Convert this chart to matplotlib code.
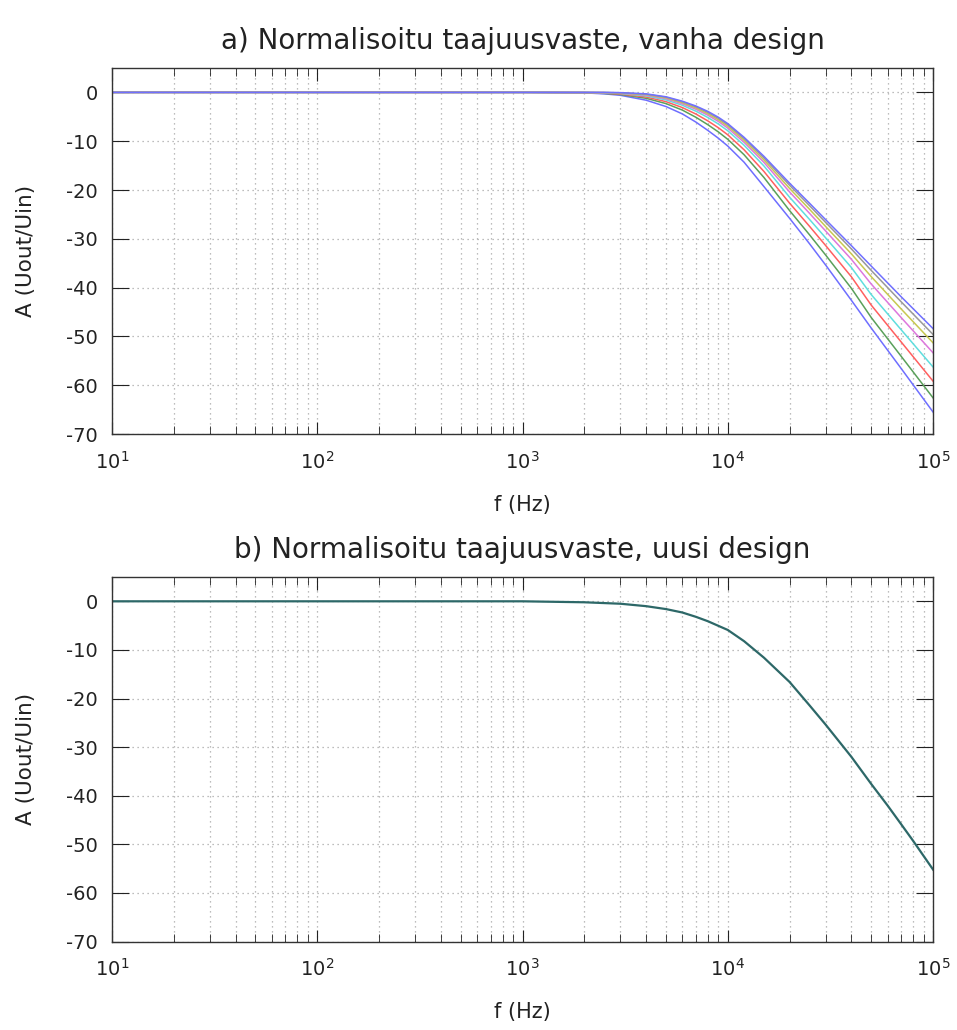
import numpy as np
import matplotlib
matplotlib.use('Agg')
import matplotlib.pyplot as plt
import matplotlib.ticker as mtick

plt.rcParams['axes.unicode_minus'] = False

freq_old = [10, 1000, 2000, 2500, 3000, 4000, 5000, 6000, 7000, 8000, 9000,
            10000, 12000, 15000, 20000, 25000, 30000, 40000, 50000, 70000, 100000]

# a) old design, one curve per component variation (dB)
old_blue1 = [0, 0, -0.1, -0.3, -0.6, -1.6, -2.9, -4.4, -6.1, -7.8, -9.4,
             -11.0, -14.3, -19.3, -25.8, -31.0, -35.4, -42.6, -48.3, -56.6, -65.5]
old_green = [0, 0, -0.07, -0.21, -0.44, -1.21, -2.3, -3.62, -5.11, -6.63, -8.11,
             -9.62, -12.77, -17.44, -24.22, -29.17, -33.35, -40.14, -46.14, -54.1, -62.59]
old_red = [0, 0, -0.05, -0.15, -0.33, -0.95, -1.9, -3.1, -4.45, -5.85, -7.25,
           -8.7, -11.75, -16.2, -22.7, -27.43, -31.4, -37.78, -43.6, -51.16, -59.17]
old_cyan = [0, 0, -0.03, -0.1, -0.23, -0.72, -1.54, -2.63, -3.86, -5.15, -6.48,
            -7.87, -10.83, -15.08, -21.48, -26.02, -29.82, -35.88, -41.44, -48.66, -56.27]
old_magenta = [0, 0, -0.02, -0.06, -0.16, -0.56, -1.3, -2.32, -3.46, -4.68, -5.96,
               -7.32, -10.22, -14.34, -20.4, -24.77, -28.42, -34.2, -39.28, -46.16, -53.36]
old_yellow = [0, 0, -0.01, -0.04, -0.12, -0.46, -1.14, -2.11, -3.2, -4.37, -5.62,
              -6.95, -9.81, -13.84, -19.68, -23.94, -27.5, -33.08, -37.76, -44.4, -51.31]
old_gray = [0, 0, 0, -0.02, -0.08, -0.37, -1.0, -1.93, -2.96, -4.1, -5.32,
            -6.63, -9.45, -13.41, -19.03, -23.2, -26.66, -32.07, -36.49, -42.93, -49.6]
old_blue2 = [0, 0, 0, 0, -0.05, -0.3, -0.9, -1.8, -2.8, -3.9, -5.1,
             -6.4, -9.2, -13.1, -18.6, -22.7, -26.1, -31.4, -35.6, -41.9, -48.4]

# b) new design (all variations overlap)
freq_new = [10, 1000, 2000, 3000, 4000, 5000, 6000, 7000, 8000, 10000, 12000,
            15000, 20000, 25000, 30000, 40000, 50000, 60000, 70000, 80000, 100000]
new_curve = [0, 0, -0.2, -0.5, -1.0, -1.6, -2.3, -3.2, -4.1, -5.9, -8.2,
             -11.6, -16.6, -21.4, -25.4, -32.0, -37.6, -42.0, -45.9, -49.3, -55.2]

old_curves = [old_blue1, old_green, old_red, old_cyan, old_magenta, old_yellow, old_gray, old_blue2]
old_colors = ['#6e6eff', '#5aa05a', '#ff5f5f', '#5fdede', '#dd77dd', '#c8c850', '#999999', '#7070ff']


def style_axes(ax, title):
    ax.set_xscale('log')
    ax.set_xlim(10, 1e5)
    ax.set_ylim(-70, 5)
    ax.set_yticks(range(-70, 1, 10))
    ax.yaxis.set_minor_locator(mtick.NullLocator())
    ax.xaxis.set_minor_locator(mtick.LogLocator(base = 10, subs = np.arange(2, 10)))
    ax.xaxis.set_minor_formatter(mtick.NullFormatter())

    ax.grid(which = 'major', color = '#a8a8a8', linestyle = (0, (1, 3)), linewidth = 0.9)
    ax.grid(which = 'minor', axis = 'x', color = '#a8a8a8', linestyle = (0, (1, 3)), linewidth = 0.9)

    ax.tick_params(which = 'both', direction = 'in', top = True, right = True, labelsize = 14, colors = '#222222')
    ax.tick_params(axis = 'x', which = 'major', length = 9, pad = 12)
    ax.tick_params(axis = 'x', which = 'minor', length = 5.5)
    ax.tick_params(axis = 'y', which = 'major', length = 12, pad = 10)
    for s in ax.spines.values():
        s.set_color('#333333')
        s.set_linewidth(1.0)

    ax.set_title(title, fontsize = 20, pad = 14, color = '#222222')
    ax.set_xlabel('f (Hz)', fontsize = 15, labelpad = 16, color = '#222222')
    ax.set_ylabel('A (Uout/Uin)', fontsize = 15.5, labelpad = 22, color = '#222222')


fig = plt.figure(figsize = (9.57, 10.3), dpi = 100)
ax1 = fig.add_axes([0.117, 0.5786, 0.858, 0.3554])
ax2 = fig.add_axes([0.117, 0.0859, 0.858, 0.3539])

for y, c in zip(old_curves, old_colors):
    ax1.plot(freq_old, y, color = c, linewidth = 1.1)
style_axes(ax1, 'a) Normalisoitu taajuusvaste, vanha design')

ax2.plot(freq_new, new_curve, color = '#2d6868', linewidth = 1.6)
style_axes(ax2, 'b) Normalisoitu taajuusvaste, uusi design')

plt.savefig('out.png', dpi = 100)
plt.close()
